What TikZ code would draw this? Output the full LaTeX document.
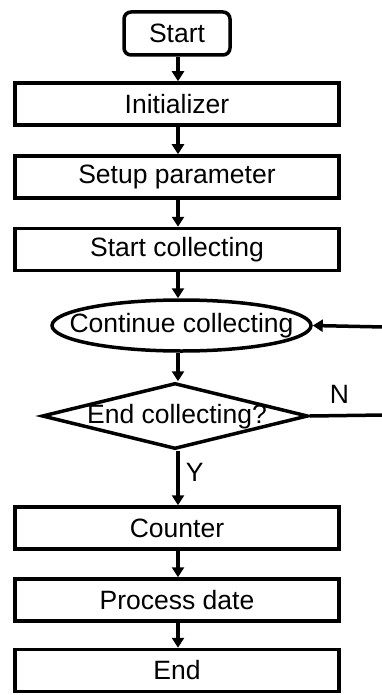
\documentclass[tikz,border=0pt]{standalone}
\usepackage{fontspec}
\setmainfont{Liberation Sans}
\usetikzlibrary{shapes.geometric,arrows.meta}
\begin{document}
\begin{tikzpicture}[x=1pt,y=-1pt,
  every node/.style={font=\fontsize{26.5}{30}\selectfont, inner sep=0pt},
  stepbox/.style={draw, line width=3.5pt, minimum width=324pt, minimum height=42pt},
  flow/.style={line width=3.5pt, -{Triangle[length=10pt,width=12pt]}}]
  \useasboundingbox (0,0) rectangle (382,695);
  % process steps
  \node[draw, line width=3.5pt, rounded corners=7pt, minimum width=106pt, minimum height=43pt] (start) at (177,33.5) {Start};
  \node[stepbox] (init)  at (177,104)   {Initializer};
  \node[stepbox] (setup) at (177,177)   {Setup parameter};
  \node[stepbox] (scoll) at (177,249.5) {Start collecting};
  \node[draw, ellipse, line width=3.5pt, minimum width=259pt, minimum height=51pt] (cont) at (181.5,325.5) {};
  \node at (181.5,326) {Continue collecting};
  \node[draw, diamond, line width=3.5pt, minimum width=266pt, minimum height=66pt] (endq) at (175,416) {};
  \node at (177,417) {End collecting?};
  \node[stepbox] (count) at (177,528)   {Counter};
  \node[stepbox] (proc)  at (177,600)   {Process date};
  \node[stepbox] (fin)   at (177,670.5) {End};
  % loop-back ends at the right edge
  \coordinate (nout) at (384,415);
  \coordinate (nin)  at (384,327);
  % connectors
  \draw[flow] (start.south -| 178,0) -- (init.north -| 178,0);
  \draw[flow] (init.south -| 178,0) -- (setup.north -| 178,0);
  \draw[flow] (setup.south -| 178,0) -- (scoll.north -| 178,0);
  \draw[flow] (scoll.south -| 178,0) -- (cont.north -| 178,0);
  \draw[flow] (cont.south -| 178,0) -- (endq.north -| 178,0);
  \draw[flow] (endq.south -| 178,0) -- node[right=6pt, pos=0.4] {Y} (count.north -| 178,0);
  \draw[flow] (count.south -| 178,0) -- (proc.north -| 178,0);
  \draw[flow] (proc.south -| 178,0) -- (fin.north -| 178,0);
  \draw[line width=3.5pt] (endq.east) -- node[above=10pt, pos=0.4] {N} (nout);
  \draw[flow] (nin) -- (cont.east);
\end{tikzpicture}
\end{document}
